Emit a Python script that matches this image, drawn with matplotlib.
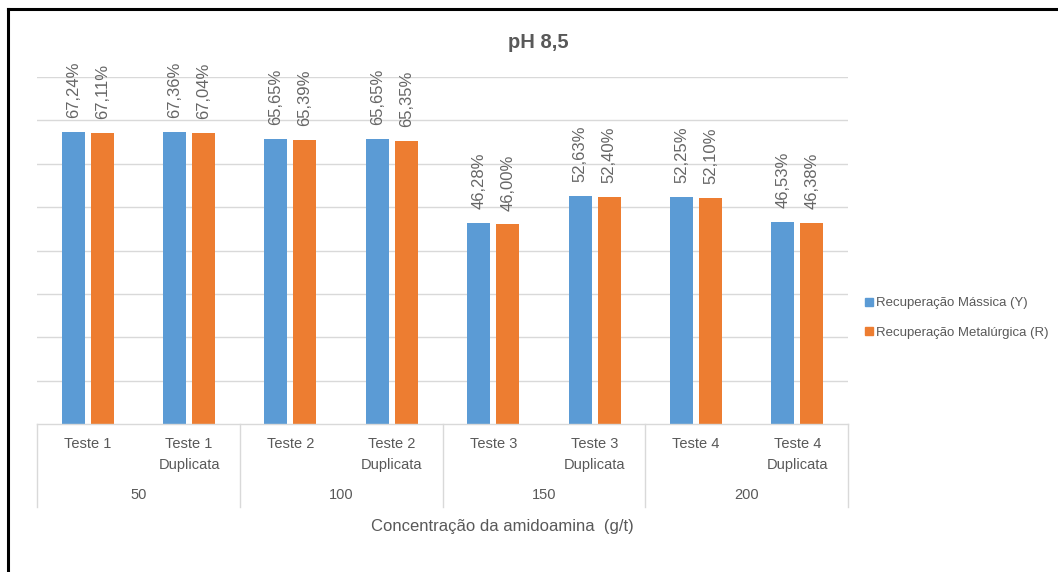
import matplotlib.pyplot as plt
import numpy as np
from matplotlib.lines import Line2D
from matplotlib.patches import Patch

testes = ["Teste 1", "Teste 1\nDuplicata", "Teste 2", "Teste 2\nDuplicata",
          "Teste 3", "Teste 3\nDuplicata", "Teste 4", "Teste 4\nDuplicata"]
concentracoes = ["50", "100", "150", "200"]
rec_massica = [67.24, 67.36, 65.65, 65.65, 46.28, 52.63, 52.25, 46.53]
rec_metalurgica = [67.11, 67.04, 65.39, 65.35, 46.00, 52.40, 52.10, 46.38]

BLUE = "#5B9BD5"
ORANGE = "#ED7D31"
TEXT = "#595959"
GRID = "#D9D9D9"
FONT = ["Liberation Sans", "DejaVu Sans"]

W, H = 1058, 572
fig = plt.figure(figsize=(W / 100, H / 100), dpi=100)


def fx(px):
    return px / W


def fy(py):
    return 1 - py / H


ax = fig.add_axes([fx(37), fy(424), fx(848) - fx(37), fy(77) - fy(424)])

x = np.arange(len(testes))
off = 0.143
bw = 0.227
b1 = ax.bar(x - off, rec_massica, bw, color=BLUE)
b2 = ax.bar(x + off, rec_metalurgica, bw, color=ORANGE)

for bars, vals in [(b1, rec_massica), (b2, rec_metalurgica)]:
    for b, v in zip(bars, vals):
        ax.annotate(f"{v:.2f}%".replace(".", ","),
                    (b.get_x() + b.get_width() / 2, v),
                    xytext=(0, 10), textcoords="offset points",
                    rotation=90, ha="center", va="bottom",
                    fontsize=12, color="#666666", family=FONT,
                    annotation_clip=False)

ax.set_xlim(-0.5, len(testes) - 0.5)
ax.set_ylim(0, 80)
ax.set_yticks(np.arange(10, 81, 10))
ax.yaxis.grid(True, color=GRID, linewidth=1)
ax.set_axisbelow(True)
ax.tick_params(axis="y", left=False, labelleft=False)
for s in ["top", "right", "left"]:
    ax.spines[s].set_visible(False)
ax.spines["bottom"].set_color(GRID)
ax.spines["bottom"].set_linewidth(1)

ax.set_xticks(x)
ax.set_xticklabels(testes, fontsize=10.5, color=TEXT, family=FONT, linespacing=1.6, va="top")
ax.tick_params(axis="x", length=0, pad=9.5)

# group level of the category axis
trans = ax.get_xaxis_transform()
ybot = (424 - 507) / (424 - 77)
for xb in np.arange(-0.5, len(testes), 2):
    ax.add_line(Line2D([xb, xb], [0, ybot], transform=trans, color=GRID,
                       linewidth=1, clip_on=False))
for i, c in enumerate(concentracoes):
    ax.text(2 * i + 0.5, (424 - 495) / (424 - 77), c, transform=trans,
            ha="center", va="center", fontsize=10.5, color=TEXT, family=FONT)

fig.text(fx(502), fy(527), "Concentração da amidoamina  (g/t)", ha="center", va="center",
         fontsize=12, color=TEXT, family=FONT)
fig.text(fx(538), fy(43), "pH 8,5", ha="center", va="center", fontsize=14.5,
         fontweight="bold", color=TEXT, family=FONT)

handles = [Patch(color=BLUE, label="Recuperação Mássica (Y)"),
           Patch(color=ORANGE, label="Recuperação Metalúrgica (R)")]
fig.legend(handles=handles, loc="center left", bbox_to_anchor=(fx(865), fy(318)),
           frameon=False, handlelength=0.6, handleheight=0.6, handletextpad=0.25,
           labelspacing=1.3, borderpad=0, borderaxespad=0,
           prop={"family": FONT, "size": 9.5}, labelcolor=TEXT)

# outer frame (left and top)
fig.add_artist(Line2D([fx(8), fx(8)], [fy(9), 0], transform=fig.transFigure,
                      color="black", linewidth=2.2))
fig.add_artist(Line2D([fx(8), 1], [fy(9), fy(9)], transform=fig.transFigure,
                      color="black", linewidth=2.2))

fig.savefig("out.png", dpi=100)
